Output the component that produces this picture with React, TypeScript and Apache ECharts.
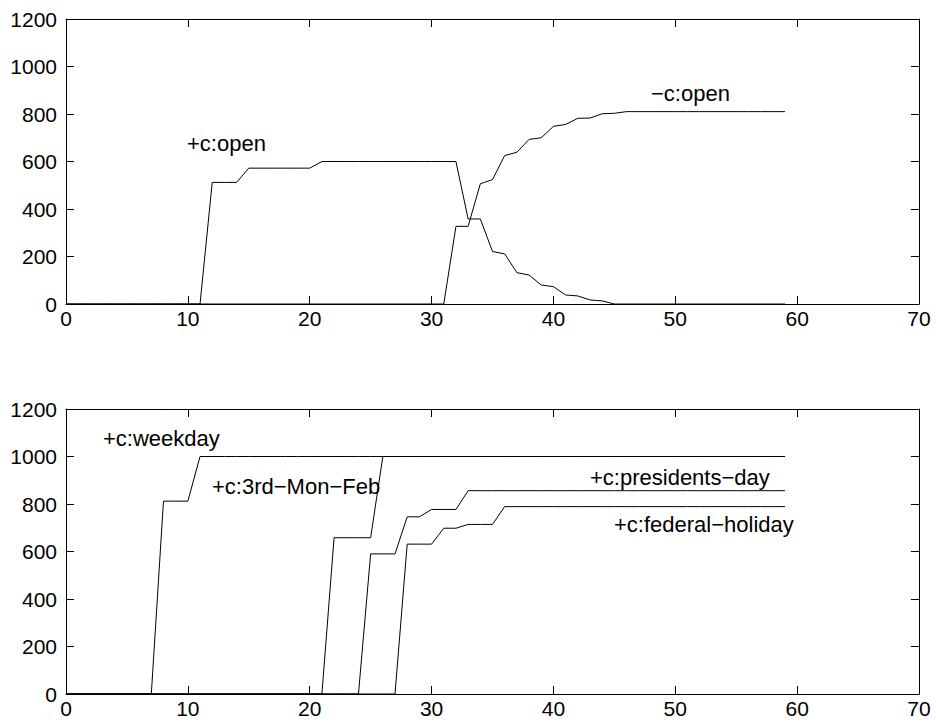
import React, { useEffect, useRef } from "react";
import * as echarts from "echarts";

// x positions 0..59
const xs: number[] = Array.from({ length: 60 }, (_, i) => i);

// Top panel
const openPos: number[] = [
  0, 0, 0, 0, 0, 0, 0, 0, 0, 0, 0, 0, // 0-11
  512, 512, 512, // 12-14
  572, 572, 572, 572, 572, 572, // 15-20
  600, 600, 600, 600, 600, 600, 600, 600, 600, 600, 600, 600, // 21-32
  358, 358, 221, 211, 132, 122, 80, 73, 38, 34, 17, 13, // 33-44
  0, 0, 0, 0, 0, 0, 0, 0, 0, 0, 0, 0, 0, 0, 0, // 45-59
];
const openNeg: number[] = [
  0, 0, 0, 0, 0, 0, 0, 0, 0, 0, 0, 0, 0, 0, 0, 0, 0, 0, 0, 0,
  0, 0, 0, 0, 0, 0, 0, 0, 0, 0, 0, 0, // 0-31
  327, 327, 506, 524, 625, 639, 693, 700, 748, 756, 782, 783, 801, 803, // 32-45
  810, 810, 810, 810, 810, 810, 810, 810, 810, 810, 810, 810, 810, 810, // 46-59
];

// Bottom panel
const weekday: number[] = [
  0, 0, 0, 0, 0, 0, 0, 0, // 0-7
  812, 812, 812, // 8-10
  1000, 1000, 1000, 1000, 1000, 1000, 1000, 1000, 1000, 1000, 1000, 1000, 1000, 1000, 1000, 1000, 1000,
  1000, 1000, 1000, 1000, 1000, 1000, 1000, 1000, 1000, 1000, 1000, 1000, 1000, 1000, 1000, 1000,
  1000, 1000, 1000, 1000, 1000, 1000, 1000, 1000, 1000, 1000, 1000, 1000, 1000, 1000, 1000, 1000, 1000, // 11-59
];
const thirdMonFeb: number[] = [
  0, 0, 0, 0, 0, 0, 0, 0, 0, 0, 0, 0, 0, 0, 0, 0, 0, 0, 0, 0, 0, 0, // 0-21
  658, 658, 658, 658, // 22-25
  1000, 1000, 1000, 1000, 1000, 1000, 1000, 1000, 1000, 1000, 1000, 1000, 1000, 1000, 1000, 1000, 1000,
  1000, 1000, 1000, 1000, 1000, 1000, 1000, 1000, 1000, 1000, 1000, 1000, 1000, 1000, 1000, 1000, 1000, // 26-59
];
const presidentsDay: number[] = [
  0, 0, 0, 0, 0, 0, 0, 0, 0, 0, 0, 0, 0, 0, 0, 0, 0, 0, 0, 0, 0, 0, 0, 0, 0, // 0-24
  590, 590, 590, // 25-27
  746, 746, // 28-29
  777, 777, 777, // 30-32
  856, 856, 856, 856, 856, 856, 856, 856, 856, 856, 856, 856, 856, 856, 856, 856, 856, 856, 856, 856,
  856, 856, 856, 856, 856, 856, 856, // 33-59
];
const federalHoliday: number[] = [
  0, 0, 0, 0, 0, 0, 0, 0, 0, 0, 0, 0, 0, 0, 0, 0, 0, 0, 0, 0, 0, 0, 0, 0, 0, 0, 0, 0, // 0-27
  631, 631, 631, // 28-30
  698, 698, // 31-32
  714, 714, 714, // 33-35
  789, 789, 789, 789, 789, 789, 789, 789, 789, 789, 789, 789, 789, 789, 789, 789, 789, 789, 789, 789,
  789, 789, 789, 789, // 36-59
];

const xTicks = { min: 0, max: 70, interval: 10 };
const yTicks = { min: 0, max: 1200, interval: 200 };

const FONT = "'Liberation Sans', Arial, Helvetica, sans-serif";

export default function App() {
  const ref = useRef<HTMLDivElement>(null);

  useEffect(() => {
    if (!ref.current) return;
    const chart = echarts.init(ref.current, undefined, { renderer: "svg" });

    const grids = [
      { left: 66, right: 17, top: 19, height: 285 },
      { left: 66, right: 17, top: 409, height: 285 },
    ];

    const tick = { show: true, inside: true, length: 8, lineStyle: { color: "#000", width: 1 } };
    const line = { show: true, onZero: false, lineStyle: { color: "#000", width: 1 } };
    const plain = (v: number) => String(v);

    const xAxis: any[] = [];
    const yAxis: any[] = [];
    [0, 1].forEach((g) => {
      xAxis.push({
        type: "value", gridIndex: g, position: "bottom", ...xTicks,
        axisLine: line, axisTick: tick, splitLine: { show: false },
        axisLabel: { color: "#000", fontSize: 21, fontFamily: FONT, margin: 4, formatter: plain },
      });
      xAxis.push({
        type: "value", gridIndex: g, position: "top", ...xTicks,
        axisLine: line, axisTick: tick, splitLine: { show: false },
        axisLabel: { show: false },
      });
      yAxis.push({
        type: "value", gridIndex: g, position: "left", ...yTicks,
        axisLine: line, axisTick: tick, splitLine: { show: false },
        axisLabel: { color: "#000", fontSize: 21, fontFamily: FONT, margin: 9, formatter: plain },
      });
      yAxis.push({
        type: "value", gridIndex: g, position: "right", ...yTicks,
        axisLine: line, axisTick: tick, splitLine: { show: false },
        axisLabel: { show: false },
      });
    });

    const mk = (vals: number[], g: number) => ({
      type: "line",
      xAxisIndex: g * 2,
      yAxisIndex: g * 2,
      data: xs.map((x, i) => [x, vals[i]]),
      showSymbol: false,
      symbol: "none",
      silent: true,
      lineStyle: { color: "#000", width: 1 },
    });

    const label = (text: string, x: number, y: number) => ({
      type: "text",
      left: x,
      top: y,
      style: { text, fill: "#000", fontSize: 22, fontFamily: FONT },
    });

    chart.setOption({
      animation: false,
      backgroundColor: "#fff",
      grid: grids,
      xAxis,
      yAxis,
      series: [
        mk(openPos, 0),
        mk(openNeg, 0),
        mk(weekday, 1),
        mk(thirdMonFeb, 1),
        mk(presidentsDay, 1),
        mk(federalHoliday, 1),
      ],
      graphic: [
        label("+c:open", 187, 132),
        label("\u2212c:open", 651, 82),
        label("+c:weekday", 103, 427),
        label("+c:3rd\u2212Mon\u2212Feb", 212, 475),
        label("+c:presidents\u2212day", 590, 466),
        label("+c:federal\u2212holiday", 614, 513),
      ],
    });

    return () => chart.dispose();
  }, []);

  return (
    <div
      ref={ref}
      style={{ position: "fixed", left: 0, top: 0, width: 936, height: 726, background: "#fff" }}
    />
  );
}
